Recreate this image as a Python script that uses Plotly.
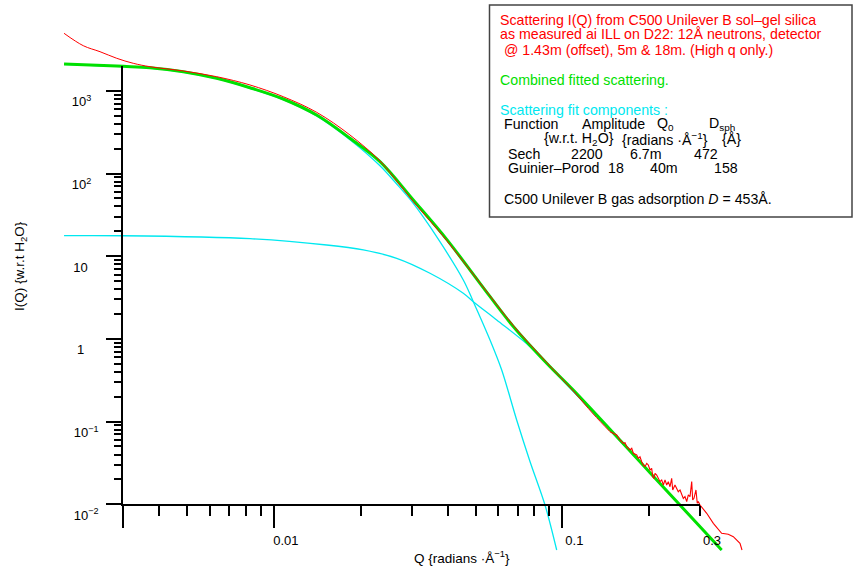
import math
import plotly.graph_objects as go

# ---------------- data ----------------
# Measured scattering I(Q) (red)
Q_meas = [0.001874, 0.002185, 0.002497, 0.002853, 0.003256, 0.003721, 0.004855, 0.006337,
          0.008266, 0.01078, 0.01407, 0.01836, 0.02333, 0.02666, 0.03043, 0.03973, 0.05183,
          0.06761, 0.08826, 0.1091, 0.1280, 0.1463, 0.1502, 0.1543, 0.1584, 0.1627, 0.1649,
          0.1672, 0.1716, 0.1740, 0.1762, 0.1810, 0.1834, 0.1858, 0.1884, 0.1908, 0.1934,
          0.1961, 0.1986, 0.2013, 0.2040, 0.2057, 0.2078, 0.2095, 0.2123, 0.2151, 0.2181,
          0.2210, 0.2239, 0.2269, 0.2300, 0.2330, 0.2361, 0.2393, 0.2413, 0.2457, 0.2491,
          0.2523, 0.2558, 0.2593, 0.2626, 0.2661, 0.2698, 0.2733, 0.2770, 0.2808, 0.2830,
          0.2859, 0.2905, 0.2935, 0.2959, 0.3000, 0.3165, 0.3337, 0.3566, 0.3759, 0.3914,
          0.4128, 0.4195]
I_meas = [4955, 3511, 2971, 2472, 2150, 1956, 1736, 1481, 1176, 848.5, 549.5, 292.1, 142.0,
          81.18, 45.86, 15.49, 4.742, 1.452, 0.5184, 0.2344, 0.1235, 0.07548, 0.0722, 0.0689,
          0.0599, 0.0546, 0.0556, 0.0497, 0.0454, 0.0476, 0.0414, 0.0395, 0.0360, 0.0376,
          0.0327, 0.0299, 0.0285, 0.0313, 0.0299, 0.0260, 0.0272, 0.0216, 0.0206, 0.0237,
          0.0226, 0.0206, 0.0188, 0.0197, 0.0171, 0.0197, 0.0171, 0.0188, 0.0163, 0.0206,
          0.0149, 0.0171, 0.0156, 0.0142, 0.0149, 0.0130, 0.0118, 0.0124, 0.0108, 0.0130,
          0.0124, 0.0188, 0.0113, 0.0118, 0.0149, 0.01028, 0.0108, 0.00981, 0.00778, 0.00589,
          0.00446, 0.00434, 0.00406, 0.00338, 0.00280]

# Combined fitted scattering (green)
Q_fit = [0.001874, 0.003007, 0.003721, 0.004855, 0.006337, 0.008266, 0.01078, 0.01407,
         0.01836, 0.02333, 0.03043, 0.03973, 0.05183, 0.06761, 0.08826, 0.1091,
         0.2013, 0.3566]
I_fit = [2109, 1977, 1902, 1702, 1416, 1089, 796, 509, 267, 139, 47.9, 16.0, 4.70,
         1.41, 0.507, 0.241, 0.0241, 0.0028]

# Fit component: Sech (cyan)
Q_sech = [0.001874, 0.003007, 0.003721, 0.004855, 0.006337, 0.008266, 0.01078, 0.01407,
          0.01836, 0.02333, 0.02666, 0.03043, 0.03477, 0.04536, 0.04913, 0.05614, 0.06163,
          0.06945, 0.07724, 0.08707, 0.09559]
I_sech = [2091, 1959, 1885, 1685, 1400, 1073, 781, 496, 256, 124, 74.6, 43.6, 22.73, 5.154,
          2.818, 0.9699, 0.4207, 0.1046, 0.0330, 0.00981, 0.0028]

# Fit component: Guinier-Porod (cyan)
Q_gp = [0.001874, 0.003007, 0.008266, 0.01525, 0.02042, 0.02666, 0.03477, 0.04536, 0.04913,
        0.05922, 0.07724, 0.1008, 0.2013, 0.3566]
I_gp = [17.70, 17.66, 16.3, 13.66, 11.89, 9.43, 6.214, 3.559, 2.818, 1.693, 0.805, 0.31,
        0.0241, 0.0028]

# Axes / ticks
X_RANGE = (0.003, 0.3)
Y_RANGE = (0.01, 2000)
X_TICKS_MAJOR = [0.003, 0.01, 0.1]
X_TICKS_MINOR = [0.004, 0.005, 0.006, 0.007, 0.008, 0.009,
                 0.02, 0.03, 0.04, 0.05, 0.06, 0.07, 0.08, 0.09, 0.2, 0.3]
X_LABEL_VALS = [0.01, 0.1, 0.3]
X_LABEL_TEXT = ["0.01", "0.1", "0.3"]
Y_TICKS_MAJOR = [0.01, 0.1, 1, 10, 100, 1000]
NB = "\u00a0"
Y_TICK_TEXT = ["10<sup>\u22122</sup>", "10<sup>\u22121</sup>", "1" + NB * 4, "10" + NB * 3,
               "10<sup>2</sup>" + NB * 2, "10<sup>3</sup>" + NB * 2]
Y_TICKS_MINOR = [m * d for d in [0.01, 0.1, 1, 10, 100] for m in range(2, 10)]

# ---------------- layout geometry (pixels) ----------------
W, H = 854, 571
PL, PR, PT, PB = 60, 750, 25, 560          # hidden drawing area (curves overrun the axes)
AL, AR, AT, AB = 123, 700, 65.9, 504.3     # visible axes box

lx0, lx1 = math.log10(X_RANGE[0]), math.log10(X_RANGE[1])
ly0, ly1 = math.log10(Y_RANGE[0]), math.log10(Y_RANGE[1])
kx = (AR - AL) / (lx1 - lx0)
ky = (AB - AT) / (ly1 - ly0)
main_xr = [lx0 - (AL - PL) / kx, lx1 + (PR - AR) / kx]
main_yr = [ly0 - (PB - AB) / ky, ly1 + (AT - PT) / ky]
xdom = [(AL - PL) / (PR - PL), (AR - PL) / (PR - PL)]
ydom = [(PB - AB) / (PB - PT), (PB - AT) / (PB - PT)]


def fx(px):
    return (px - PL) / (PR - PL)


def fy(py):
    return (PB - py) / (PB - PT)


FONT = "Liberation Sans, Arial, Helvetica, sans-serif"
RED = "#ff0000"
GREEN = "#00e000"
CYAN = "#00e8f0"
N_SMOOTH = 21   # measured points before the noisy high-q tail

fig = go.Figure()
fig.add_trace(go.Scatter(x=Q_gp, y=I_gp, mode="lines",
                         line=dict(color=CYAN, width=1.3, shape="spline", smoothing=0.9),
                         hoverinfo="skip", showlegend=False))
fig.add_trace(go.Scatter(x=Q_sech, y=I_sech, mode="lines",
                         line=dict(color=CYAN, width=1.3, shape="spline", smoothing=0.9),
                         hoverinfo="skip", showlegend=False))
fig.add_trace(go.Scatter(x=Q_fit, y=I_fit, mode="lines",
                         line=dict(color=GREEN, width=3, shape="spline", smoothing=1.0),
                         hoverinfo="skip", showlegend=False))
fig.add_trace(go.Scatter(x=Q_meas[:N_SMOOTH + 1], y=I_meas[:N_SMOOTH + 1], mode="lines",
                         line=dict(color=RED, width=1, shape="spline", smoothing=1.0),
                         hoverinfo="skip", showlegend=False))
fig.add_trace(go.Scatter(x=Q_meas[N_SMOOTH:], y=I_meas[N_SMOOTH:], mode="lines",
                         line=dict(color=RED, width=1.1),
                         hoverinfo="skip", showlegend=False))
# invisible carriers for the visible axes
fig.add_trace(go.Scatter(x=Q_fit, y=I_fit, xaxis="x2", yaxis="y2", mode="lines", opacity=0,
                         line=dict(width=0), hoverinfo="skip", showlegend=False))
fig.add_trace(go.Scatter(x=Q_fit, y=I_fit, xaxis="x3", yaxis="y2", mode="lines", opacity=0,
                         line=dict(width=0), hoverinfo="skip", showlegend=False))

tick_font = dict(family=FONT, size=13, color="black")

fig.update_layout(
    width=W, height=H,
    margin=dict(l=PL, r=W - PR, t=PT, b=H - PB, pad=0, autoexpand=False),
    paper_bgcolor="white", plot_bgcolor="rgba(0,0,0,0)",
    showlegend=False,
    xaxis=dict(type="log", range=main_xr, domain=[0, 1], visible=False, anchor="y",
               automargin=False),
    yaxis=dict(type="log", range=main_yr, domain=[0, 1], visible=False, anchor="x",
               automargin=False),
    xaxis2=dict(type="log", range=[lx0, lx1], domain=xdom, anchor="y2", automargin=False,
                showline=True, linecolor="black", linewidth=1.6, mirror=False,
                showgrid=False, zeroline=False,
                ticks="outside", tickmode="array", tickvals=X_TICKS_MAJOR, ticklen=22,
                tickwidth=1.6, tickcolor="black", showticklabels=False,
                minor=dict(tickmode="array", tickvals=X_TICKS_MINOR, ticks="outside",
                           ticklen=10, tickwidth=1.6, tickcolor="black", showgrid=False)),
    xaxis3=dict(type="log", range=[lx0, lx1], domain=xdom, anchor="y2", overlaying="x2",
                automargin=False,
                showline=False, showgrid=False, zeroline=False, ticks="",
                tickmode="array", tickvals=X_LABEL_VALS, ticktext=X_LABEL_TEXT,
                tickfont=tick_font, ticklabelshift=12, ticklabelstandoff=27),
    yaxis2=dict(type="log", range=[ly0, ly1], domain=ydom, anchor="x2", automargin=False,
                showline=True, linecolor="black", linewidth=1.6, mirror=False,
                showgrid=False, zeroline=False,
                ticks="outside", tickmode="array", tickvals=Y_TICKS_MAJOR, ticktext=Y_TICK_TEXT,
                ticklen=15, tickwidth=1.6, tickcolor="black", tickfont=tick_font,
                ticklabelshift=11, ticklabelstandoff=5,
                minor=dict(tickmode="array", tickvals=Y_TICKS_MINOR, ticks="outside",
                           ticklen=7, tickwidth=1.6, tickcolor="black", showgrid=False)),
)

annotations = []


def txt(px, py, text, color="black", size=14.2, **kw):
    d = dict(xref="paper", yref="paper", x=fx(px), y=fy(py), text=text, showarrow=False,
             xanchor="left", yanchor="middle", font=dict(family=FONT, size=size, color=color))
    d.update(kw)
    annotations.append(d)


# axis titles
txt(462, 557, "Q {radians \u00b7\u00c5<sup>\u22121</sup>}", xanchor="center", size=13.5)
txt(20.5, 266.5, "I(Q) {w.r.t H<sub>2</sub>O}", xanchor="center", size=13.5, textangle=-90)

# legend box text
txt(498, 20, "Scattering I(Q) from C500 Unilever B sol\u2013gel silica", RED)
txt(498, 34.5, "as measured ai ILL on D22: 12\u00c5 neutrons, detector", RED)
txt(498, 49.5, " @ 1.43m (offset), 5m &amp; 18m. (High q only.)", RED)
txt(498, 79.5, "Combined fitted scattering.", GREEN)
txt(498, 109.5, "Scattering fit components :", CYAN)
txt(502, 124, "Function")
txt(580, 124, "Amplitude")
txt(655, 124, "Q<sub>0</sub>")
txt(707, 124, "D<sub>sph</sub>")
txt(542, 138.5, "{w.r.t. H<sub>2</sub>O}")
txt(620, 138.5, "{radians \u00b7\u00c5<sup>\u22121</sup>}")
txt(720, 138.5, "{\u00c5}")
txt(506, 153.5, "Sech")
txt(569, 153.5, "2200")
txt(628, 153.5, "6.7m")
txt(692, 153.5, "472")
txt(506, 168, "Guinier\u2013Porod")
txt(606, 168, "18")
txt(648, 168, "40m")
txt(712, 168, "158")
txt(502, 199, "C500 Unilever B gas adsorption <i>D</i> = 453\u00c5.")

fig.update_layout(annotations=annotations)

fig.add_shape(type="rect", xref="paper", yref="paper",
              x0=fx(489.5), x1=fx(852), y0=fy(217), y1=fy(5),
              line=dict(color="#444444", width=1.5), fillcolor="rgba(0,0,0,0)", layer="below")

fig.write_html("out.html", config={"displayModeBar": False},
               post_script="document.body.style.margin='0';")
